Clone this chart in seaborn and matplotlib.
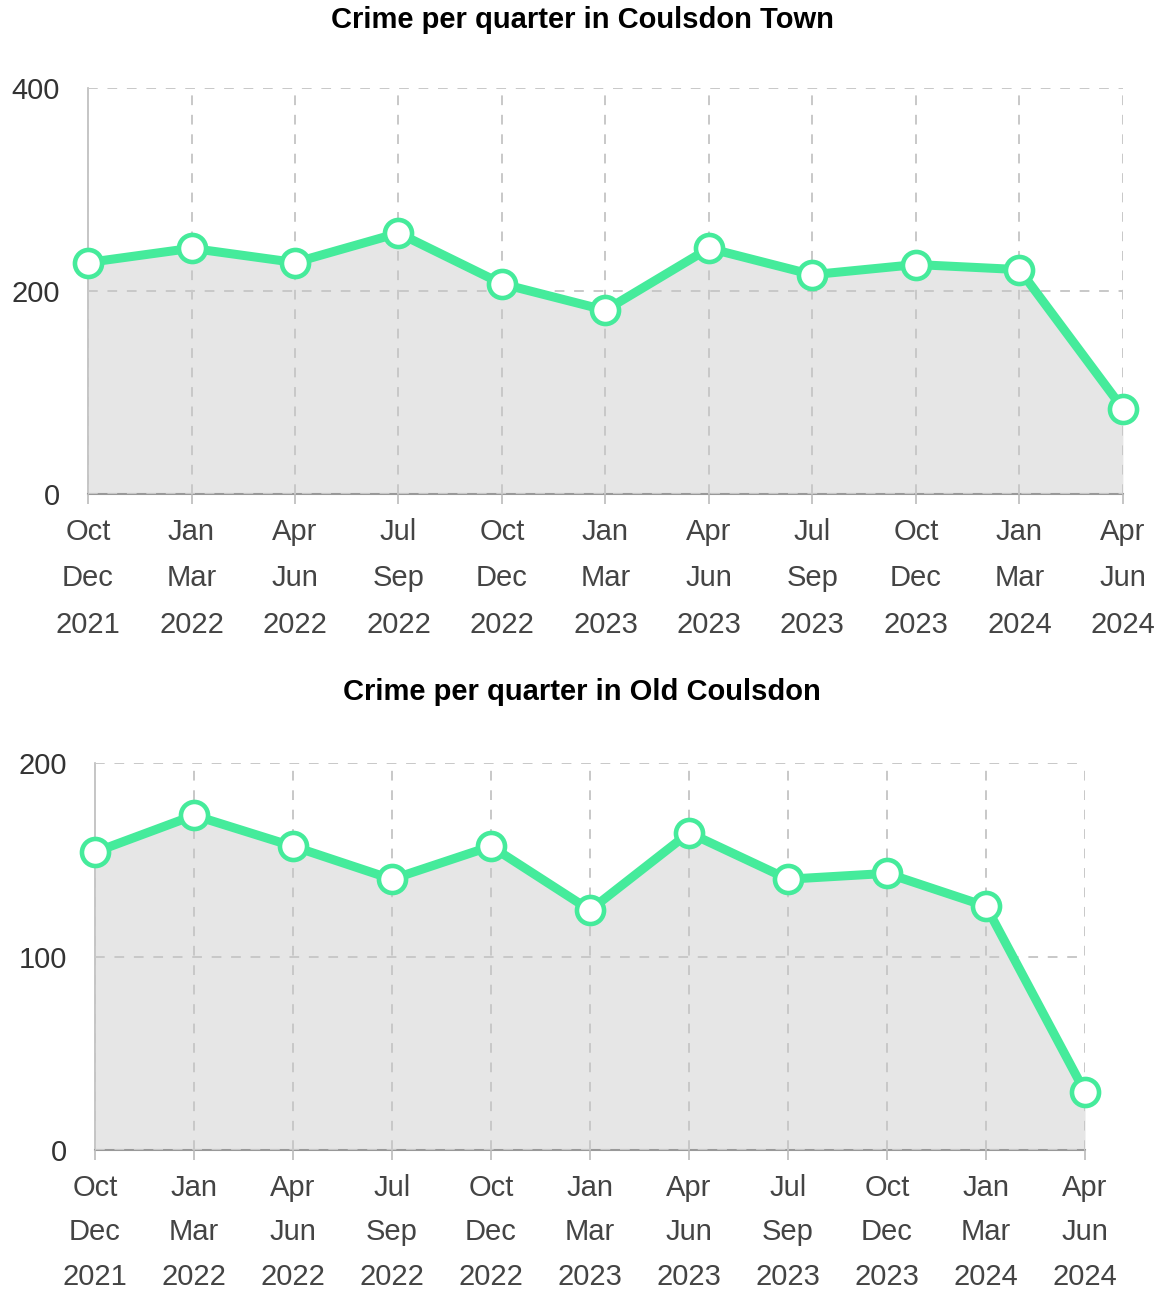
import matplotlib
matplotlib.use("Agg")
import matplotlib.pyplot as plt
import seaborn as sns
import numpy as np
import pandas as pd

# quarter labels (3 lines each)
quarters = ["Oct\nDec\n2021", "Jan\nMar\n2022", "Apr\nJun\n2022", "Jul\nSep\n2022",
            "Oct\nDec\n2022", "Jan\nMar\n2023", "Apr\nJun\n2023", "Jul\nSep\n2023",
            "Oct\nDec\n2023", "Jan\nMar\n2024", "Apr\nJun\n2024"]

# crime counts
coulsdon_town = [228, 242, 228, 257, 207, 181, 242, 216, 226, 221, 84]
old_coulsdon = [154, 173, 157, 140, 157, 124, 164, 140, 143, 126, 30]

line_green = "#45eb9b"
fill_grey = "#e6e6e6"
grid_grey = "#c8c8c8"

sns.set_theme(style="white")
plt.rcParams["font.family"] = ["Liberation Sans", "DejaVu Sans"]

fig = plt.figure(figsize=(11.72, 12.89), dpi=100)

#Defining a function to draw one panel
def draw_panel(ax, values, ymax, yticks, spacing):
    df = pd.DataFrame({"q": np.arange(len(quarters)), "crimes": values})
    ax.fill_between(df["q"], 0, df["crimes"], color=fill_grey, zorder=1, linewidth=0)
    sns.lineplot(data=df, x="q", y="crimes", ax=ax, color=line_green, linewidth=6.5,
                 marker="o", markersize=19.5, markerfacecolor="white",
                 markeredgecolor=line_green, markeredgewidth=3.3, zorder=3, clip_on=False)
    ax.set_xlim(0, len(quarters) - 1)
    ax.set_ylim(0, ymax)
    ax.set_xticks(df["q"])
    ax.set_xticklabels(quarters, linespacing=spacing)
    ax.set_yticks(yticks)
    ax.set_xlabel("")
    ax.set_ylabel("")
    ax.set_axisbelow(False)
    ax.grid(True, color=grid_grey, linestyle=(0, (5, 5)), linewidth=1.4, zorder=2)
    for s in ["top", "right"]:
        ax.spines[s].set_visible(False)
    ax.spines["left"].set_color("#bbbbbb")
    ax.spines["left"].set_linewidth(1.2)
    ax.spines["bottom"].set_color("#999999")
    ax.spines["bottom"].set_linewidth(1.5)
    ax.tick_params(axis="x", bottom=True, length=7, width=1.2, color="#bbbbbb",
                   labelsize=21, labelcolor="#444444", pad=10)
    ax.tick_params(axis="y", left=False, labelsize=21, labelcolor="#333333", pad=14)

ax1 = fig.add_axes([0.0751, 0.6168, 0.883, 0.315])
draw_panel(ax1, coulsdon_town, 400, [0, 200, 400], 1.85)
fig.text(582 / 1172, 1 - 20 / 1289, "Crime per quarter in Coulsdon Town",
         ha="center", va="center", fontsize=21, fontweight="bold", color="black")

ax2 = fig.add_axes([0.0811, 0.1078, 0.8447, 0.3002])
draw_panel(ax2, old_coulsdon, 200, [0, 100, 200], 1.75)
fig.text(582 / 1172, 1 - 692 / 1289, "Crime per quarter in Old Coulsdon",
         ha="center", va="center", fontsize=21, fontweight="bold", color="black")

fig.savefig("out.png", dpi=100)
